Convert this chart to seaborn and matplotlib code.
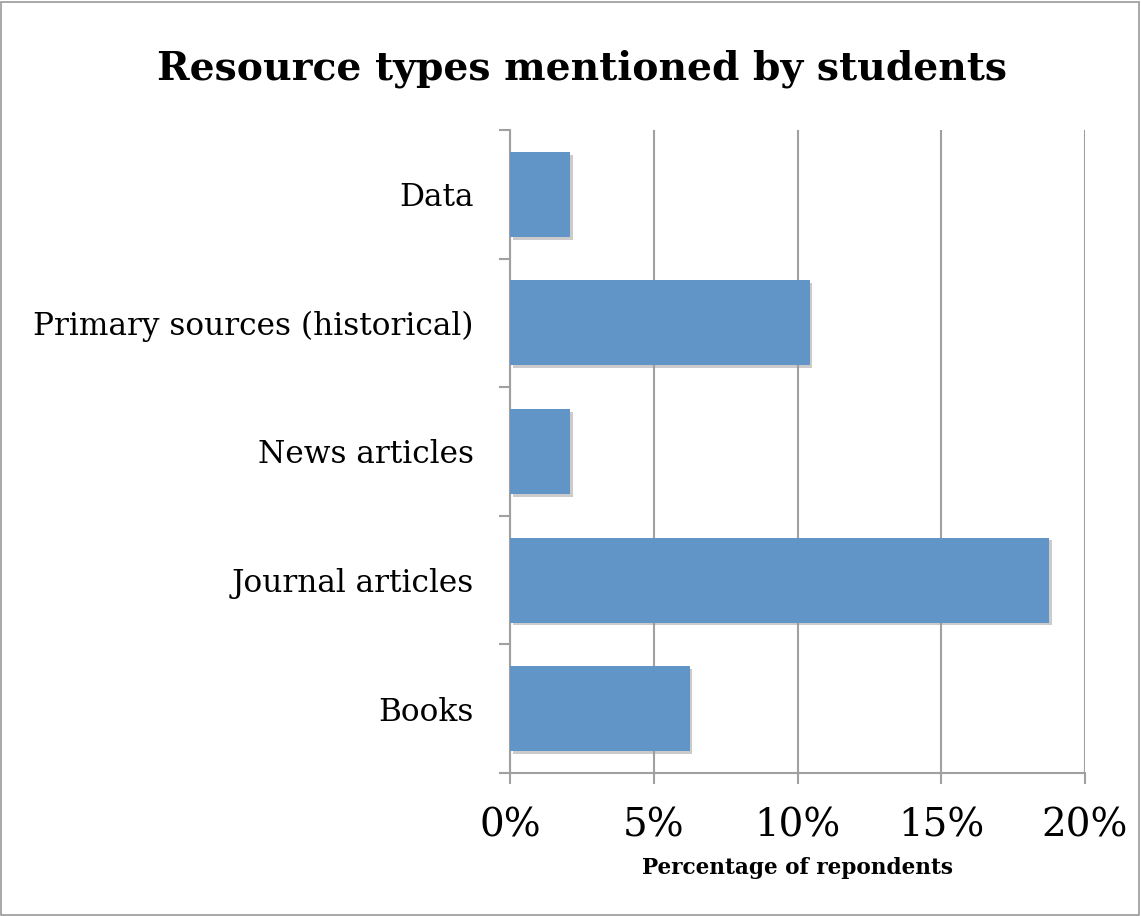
import matplotlib
matplotlib.use("Agg")
import matplotlib.pyplot as plt
import matplotlib.patheffects as pe
from matplotlib.ticker import FixedLocator, FuncFormatter
import seaborn as sns
import pandas as pd
import numpy as np

categories = ["Data", "Primary sources (historical)", "News articles", "Journal articles", "Books"]
values = [2.08, 10.42, 2.08, 18.75, 6.25]
xticks = [0, 5, 10, 15, 20]

sns.set_theme(style="white")
plt.rcParams['font.family'] = ['DejaVu Serif', 'Liberation Serif']

df = pd.DataFrame({"category": categories, "value": values})

fig = plt.figure(figsize=(11.41, 9.16), dpi=100)
ax = fig.add_axes([510/1141, 1 - 773/916, (1085-510)/1141, (773-130)/916])

sns.barplot(data=df, y="category", x="value", order=categories, color="#6195C8",
            saturation=1, width=0.66, ax=ax, zorder=3)
for p in ax.patches:
    p.set_edgecolor("none")
    p.set_path_effects([pe.SimplePatchShadow(offset=(2, -2), shadow_rgbFace="#999999", alpha=0.5), pe.Normal()])

ax.set_xlim(0, 20)
ax.set_ylim(len(categories) - 0.5, -0.5)
ax.xaxis.set_major_locator(FixedLocator(xticks))
ax.xaxis.set_major_formatter(FuncFormatter(lambda v, _: f"{int(v)}%"))
ax.grid(axis="x", color="#A0A0A0", linewidth=1.5, zorder=0)
ax.grid(axis="y", visible=False)
ax.set_axisbelow(True)

for s in ["top", "right"]:
    ax.spines[s].set_visible(False)
for s in ["left", "bottom"]:
    ax.spines[s].set_color("#A0A0A0")
    ax.spines[s].set_linewidth(1.5)

ax.set_yticks(np.arange(-0.5, len(categories), 1.0), minor=True)
ax.tick_params(axis="y", which="major", length=0, pad=26, labelsize=22.5, labelcolor="black")
ax.tick_params(axis="y", which="minor", length=8, width=1.5, color="#A0A0A0", left=True)
ax.tick_params(axis="x", which="major", length=8, width=1.5, color="#A0A0A0", bottom=True,
               pad=17, labelsize=28, labelcolor="black")
ax.set_ylabel("")
ax.set_xlabel("Percentage of repondents", fontsize=15.6, fontweight="bold", labelpad=9, color="black")

fig.text(582/1141, 1 - 69/916, "Resource types mentioned by students", ha="center", va="center",
         fontsize=28.3, fontweight="bold", color="black")

fig.patches.append(plt.Rectangle((0.001, 0.001), 0.997, 0.997, transform=fig.transFigure,
                                 fill=False, edgecolor="#999999", linewidth=1.2))

fig.savefig("out.png", dpi=100)
